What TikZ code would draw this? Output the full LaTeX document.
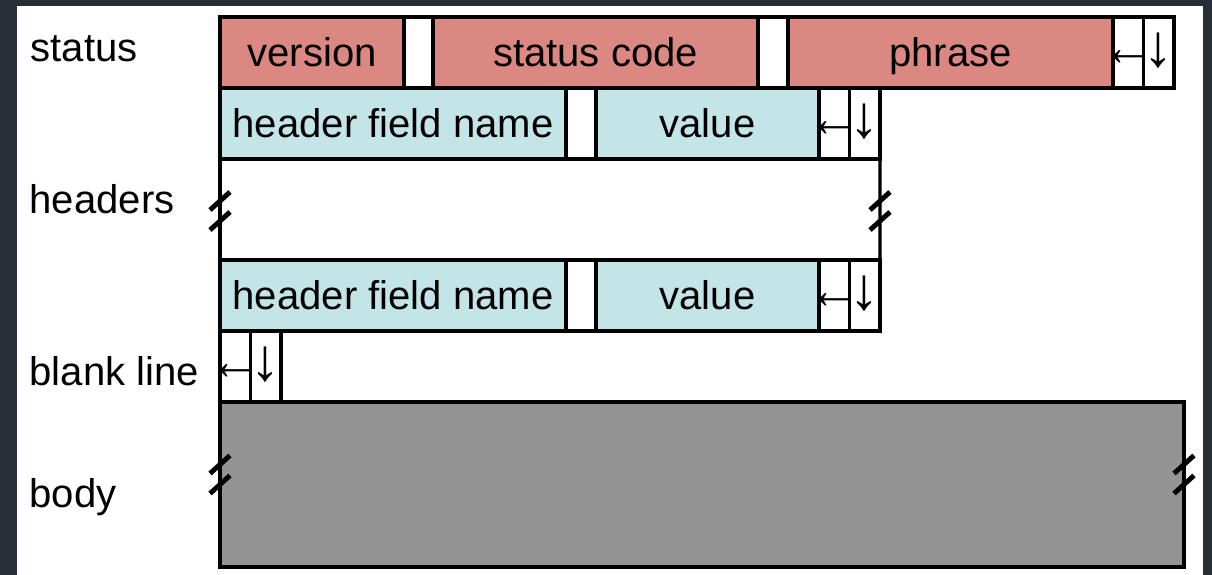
\documentclass[tikz,border=0pt]{standalone}
\usepackage{fontspec}
\setmainfont{Liberation Sans}
\usetikzlibrary{positioning}
\definecolor{framecol}{RGB}{40,46,54}
\definecolor{statuscol}{RGB}{219,136,131}
\definecolor{headercol}{RGB}{196,229,231}
\definecolor{bodycol}{RGB}{148,148,148}
\newcommand{\crmark}{\makebox[0pt]{\fontsize{15}{16}\selectfont\raisebox{0.5pt}{←}}}
\newcommand{\lfmark}{\makebox[0pt]{\fontsize{17}{18}\selectfont ↓}}
\tikzset{
  pics/brk/.style={code={
    \draw[breakmark] (-0.1,0.01) -- (0.1,0.19);
    \draw[breakmark] (-0.1,-0.19) -- (0.1,-0.01);
  }}
}

\begin{document}
\begin{tikzpicture}[
  font=\fontsize{11.4}{13.7}\selectfont,
  field/.style={draw=black, line width=0.9pt, minimum height=0.71cm,
                inner sep=0pt, outer sep=0pt, text height=0.29cm,
                text depth=0pt, anchor=west},
  statusfield/.style={field, fill=statuscol},
  headerfield/.style={field, fill=headercol},
  spacer/.style={field, fill=white},
  crlf/.style={field, fill=white, minimum width=0.305cm},
  rowlabel/.style={anchor=base west, inner sep=0pt},
  edge/.style={line width=0.9pt},
  breakmark/.style={line width=1.4pt}
]
  \useasboundingbox (0,0) rectangle (12.12,-5.75);
  \fill[framecol] (0,0) rectangle (12.12,-5.75);
  \fill[white] (0.17,-0.06) rectangle (12.03,-5.75);

  % status line
  \node[statusfield, minimum width=1.84cm] (version) at (2.2,-0.525) {version};
  \node[spacer, minimum width=0.29cm, right=0pt of version] (sp1) {};
  \node[statusfield, minimum width=3.25cm, right=0pt of sp1] (code) {status code};
  \node[spacer, minimum width=0.30cm, right=0pt of code] (sp2) {};
  \node[statusfield, minimum width=3.25cm, right=0pt of sp2] (phrase) {phrase};
  \node[crlf, right=0pt of phrase] (cr1) {\crmark};
  \node[crlf, right=0pt of cr1] (lf1) {\lfmark};

  % first header
  \node[headerfield, minimum width=3.46cm] (hname1) at (2.2,-1.235) {header field name};
  \node[spacer, minimum width=0.30cm, right=0pt of hname1] (sp3) {};
  \node[headerfield, minimum width=2.23cm, right=0pt of sp3] (hval1) {value};
  \node[crlf, right=0pt of hval1] (cr2) {\crmark};
  \node[crlf, right=0pt of cr2] (lf2) {\lfmark};

  % last header
  \node[headerfield, minimum width=3.46cm] (hname2) at (2.2,-2.955) {header field name};
  \node[spacer, minimum width=0.30cm, right=0pt of hname2] (sp4) {};
  \node[headerfield, minimum width=2.23cm, right=0pt of sp4] (hval2) {value};
  \node[crlf, right=0pt of hval2] (cr3) {\crmark};
  \node[crlf, right=0pt of cr3] (lf3) {\lfmark};

  % blank line
  \node[crlf] (cr4) at (2.2,-3.665) {\crmark};
  \node[crlf, right=0pt of cr4] (lf4) {\lfmark};

  % body
  \node[field, fill=bodycol, minimum width=9.64cm, minimum height=1.65cm]
    (body) at (2.2,-4.845) {};

  % breaks
  \coordinate (lbreak) at (2.2,-2.11);
  \coordinate (rbreak) at (8.80,-2.11);
  \draw[edge] (hname1.south west) -- ([yshift=-0.9mm]lbreak);
  \draw[edge] ([yshift=-1.1mm]lbreak) -- (hname2.north west);
  \draw[edge] (lf2.south east) -- ([yshift=-0.9mm]rbreak);
  \draw[edge] ([yshift=-1.1mm]rbreak) -- (lf3.north east);
  \pic at (lbreak) {brk};
  \pic at (rbreak) {brk};
  \pic at ([yshift=0.1cm]body.west) {brk};
  \pic at ([yshift=0.1cm]body.east) {brk};

  % row labels
  \node[rowlabel] (lstatus) at (0.3,-0.62) {status};
  \node[rowlabel] (lheaders) at (0.29,-2.14) {headers};
  \node[rowlabel] (lblank) at (0.29,-3.855) {blank line};
  \node[rowlabel] (lbody) at (0.29,-5.07) {body};
\end{tikzpicture}
\end{document}
